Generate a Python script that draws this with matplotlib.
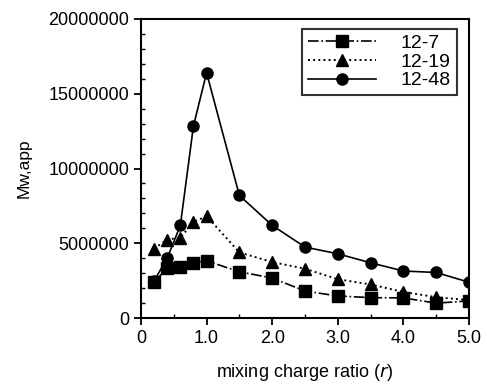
import matplotlib
matplotlib.use("Agg")
import matplotlib.pyplot as plt
from matplotlib.ticker import MultipleLocator

plt.rcParams['font.family'] = ['Liberation Sans', 'DejaVu Sans']

r = [0.2, 0.4, 0.6, 0.8, 1.0, 1.5, 2.0, 2.5, 3.0, 3.5, 4.0, 4.5, 5.0]
mw_12_7 = [2.4e6, 3.35e6, 3.43e6, 3.7e6, 3.83e6, 3.1e6, 2.68e6, 1.81e6, 1.48e6, 1.37e6, 1.35e6, 1.0e6, 1.15e6]
mw_12_19 = [4.65e6, 5.25e6, 5.38e6, 6.42e6, 6.82e6, 4.39e6, 3.75e6, 3.3e6, 2.6e6, 2.25e6, 1.75e6, 1.4e6, 1.2e6]
mw_12_48 = [2.5e6, 4.0e6, 6.2e6, 12.85e6, 16.4e6, 8.2e6, 6.2e6, 4.75e6, 4.3e6, 3.7e6, 3.15e6, 3.05e6, 2.4e6]

xticks = [0, 1, 2, 3, 4, 5]
xticklabels = ["0", "1.0", "2.0", "3.0", "4.0", "5.0"]
yticks = [0, 5000000, 10000000, 15000000, 20000000]
yticklabels = ["0", "5000000", "10000000", "15000000", "20000000"]

fig = plt.figure(figsize=(4.87, 3.87), dpi=100)
ax = fig.add_axes([0.2895, 0.178, 0.6735, 0.773])

ax.plot(r, mw_12_7, linestyle='-.', color='black', lw=1.2, marker='s', ms=8, label='12-7')
ax.plot(r, mw_12_19, linestyle=':', color='black', lw=1.4, marker='^', ms=8.5, label='12-19')
ax.plot(r, mw_12_48, linestyle='-', color='black', lw=1.2, marker='o', ms=8, label='12-48')

ax.set_xlim(0, 5)
ax.set_ylim(0, 20000000)
ax.set_xticks(xticks)
ax.set_xticklabels(xticklabels)
ax.set_yticks(yticks)
ax.set_yticklabels(yticklabels)
ax.xaxis.set_minor_locator(MultipleLocator(0.5))
ax.yaxis.set_minor_locator(MultipleLocator(1000000))
ax.tick_params(which='major', direction='out', length=5, width=1.3, labelsize=13)
ax.tick_params(which='minor', direction='in', length=3, width=1.0)
for s in ax.spines.values():
    s.set_linewidth(1.5)

ax.set_xlabel('mixing charge ratio ($\\it{r}$)', fontsize=13, labelpad=11)
ax.set_ylabel('Mw,app', fontsize=12.5, labelpad=12)

leg = ax.legend(loc='upper right', fontsize=14, frameon=True, fancybox=False,
                edgecolor='black', handlelength=3.5, borderpad=0.3, labelspacing=0.05,
                handletextpad=1.3, borderaxespad=0, bbox_to_anchor=(0.963, 0.967))
leg.get_frame().set_linewidth(1.5)

fig.savefig('out.png', dpi=100)
